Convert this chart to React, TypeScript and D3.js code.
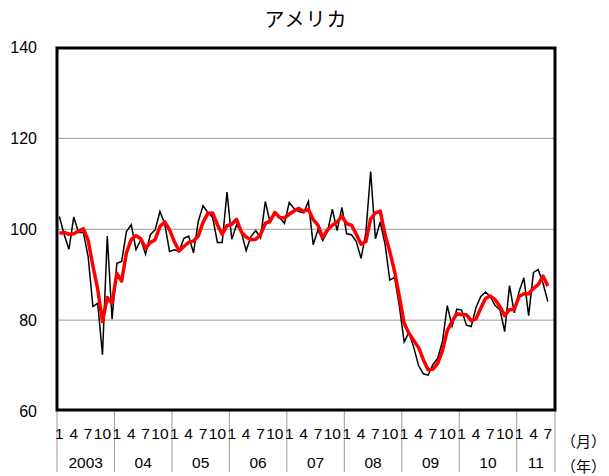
import React from 'react';
import * as d3 from 'd3';

const title = 'アメリカ';
const yearLabels = ['2003', '04', '05', '06', '07', '08', '09', '10', '11'];
const monthLabels = ['1', '4', '7', '10'];
const monthOffsets = [0, 3, 6, 9];
const slotCount = 104; // Jan 2003 .. Aug 2011 slots
const yTicks = [60, 80, 100, 120, 140];
const gridValues = [80, 100, 120];

// Monthly index (Jan 2003 – Jul 2011), black line
const actual = [
  102.8, 98.8, 95.6, 102.7, 99.3, 99.3, 94.0, 83.0, 83.7, 72.4, 98.5, 80.2,
  92.5, 92.9, 99.5, 101.0, 95.5, 97.7, 94.5, 98.8, 99.9, 103.9, 101.2, 95.1,
  95.5, 95.1, 98.0, 98.5, 94.8, 101.7, 105.2, 103.7, 102.6, 97.1, 97.1, 108.2,
  97.8, 101.0, 99.3, 95.3, 98.4, 99.7, 98.1, 106.1, 101.5, 103.6, 102.6, 101.3,
  105.9, 104.6, 103.9, 103.6, 106.1, 96.6, 99.9, 97.5, 99.5, 104.4, 99.7, 104.8,
  99.0, 98.8, 97.3, 93.6, 99.2, 112.7, 97.9, 101.6, 96.8, 88.8, 89.4, 83.0,
  75.2, 77.3, 74.0, 70.0, 68.2, 67.9, 70.2, 71.6, 75.3, 83.2, 78.7, 82.4,
  82.2, 78.9, 78.6, 82.8, 85.2, 86.2, 85.1, 83.2, 82.3, 77.5, 87.6, 81.6,
  86.3, 89.3, 81.0, 90.5, 91.1, 88.1, 84.1,
];

// Smoothed series, red line
const smoothed = [
  99.1, 99.3, 98.9, 99.0, 99.6, 100.1, 97.6, 91.9, 86.8, 79.7, 85.0, 83.7,
  90.3, 88.6, 94.8, 97.7, 98.6, 97.9, 95.8, 97.1, 97.7, 100.6, 101.6, 99.9,
  97.3, 95.2, 96.2, 97.1, 97.4, 98.5, 101.5, 103.5, 103.6, 101.0, 98.9, 100.8,
  101.1, 102.2, 99.4, 98.3, 97.7, 97.8, 98.8, 101.3, 101.8, 103.7, 102.6, 102.5,
  103.3, 104.0, 104.6, 103.9, 104.4, 102.1, 100.9, 98.2, 99.9, 100.9, 101.6, 102.9,
  101.2, 100.9, 98.9, 96.7, 97.3, 102.3, 103.6, 104.0, 98.9, 95.1, 90.7, 85.2,
  79.3, 77.1, 75.5, 74.0, 71.3, 69.1, 69.2, 70.5, 73.3, 77.7, 79.7, 81.4,
  81.2, 81.2, 79.9, 80.3, 82.6, 84.8, 85.3, 84.5, 83.0, 81.0, 82.3, 82.4,
  85.2, 85.8, 85.8, 87.0, 87.8, 89.7, 87.5,
];

const numFont = "'Liberation Sans', Arial, sans-serif";
const jpFont = "'Noto Sans CJK JP', sans-serif";

export default function App() {
  const W = 609;
  const H = 476;
  const left = 57;
  const right = 555;
  const top = 48;
  const bottom = 410;

  const x = d3.scaleBand<number>().domain(d3.range(slotCount)).range([left, right]).padding(0);
  const y = d3.scaleLinear().domain([60, 140]).range([411, 47.5]);
  const cx = (i: number) => (x(i) as number) + x.bandwidth() / 2;

  const line = d3
    .line<number>()
    .x((_, i) => cx(i))
    .y((d) => y(d));

  const yearStarts = yearLabels.map((_, k) => k * 12);
  const boundaries = [...yearStarts.map((i) => x(i) as number), right];

  const monthTexts: { i: number; label: string }[] = [];
  yearLabels.forEach((_, k) => {
    monthOffsets.forEach((m, j) => {
      const i = k * 12 + m;
      if (i < actual.length) monthTexts.push({ i, label: monthLabels[j] });
    });
  });

  return (
    <svg
      width={W}
      height={H}
      style={{ position: 'absolute', left: 0, top: 0, background: '#fff' }}
    >
      <rect x={0} y={0} width={W} height={H} fill="#fff" />
      <text x={306} y={27} textAnchor="middle" fontFamily={jpFont} fontSize={20} fill="#000" letterSpacing={1}>
        {title}
      </text>

      {gridValues.map((v) => (
        <line key={v} x1={left} x2={right} y1={y(v)} y2={y(v)} stroke="#9a9a9a" strokeWidth={1} />
      ))}

      {yTicks.map((v) => (
        <text
          key={v}
          x={37}
          y={y(v)}
          dy="0.35em"
          textAnchor="end"
          fontFamily={numFont}
          fontSize={16}
          fill="#000"
        >
          {v}
        </text>
      ))}

      {boundaries.map((bx, k) => (
        <line key={k} x1={bx} x2={bx} y1={bottom} y2={472} stroke="#9a9a9a" strokeWidth={1} />
      ))}

      {monthTexts.map((m) => (
        <text
          key={m.i}
          x={cx(m.i)}
          y={439}
          textAnchor="middle"
          fontFamily={numFont}
          fontSize={15.5}
          fill="#000"
        >
          {m.label}
        </text>
      ))}

      {yearLabels.map((lab, k) => {
        const x0 = boundaries[k];
        const x1 = boundaries[k + 1];
        return (
          <text
            key={lab}
            x={(x0 + x1) / 2}
            y={468}
            textAnchor="middle"
            fontFamily={numFont}
            fontSize={15.5}
            fill="#000"
          >
            {lab}
          </text>
        );
      })}

      <text x={561} y={447} fontFamily={jpFont} fontSize={15} fill="#000">
        （月）
      </text>
      <text x={561} y={472} fontFamily={jpFont} fontSize={15} fill="#000">
        （年）
      </text>

      <path d={line(actual) || ''} fill="none" stroke="#000" strokeWidth={1.5} strokeLinejoin="miter" />
      <path d={line(smoothed) || ''} fill="none" stroke="#ff0000" strokeWidth={3.5} strokeLinejoin="round" />

      <rect
        x={left}
        y={top}
        width={right - left}
        height={bottom - top}
        fill="none"
        stroke="#000"
        strokeWidth={3}
      />
    </svg>
  );
}
